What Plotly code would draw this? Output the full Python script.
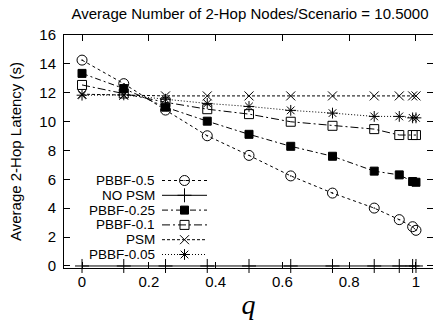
import plotly.graph_objects as go

q = [0, 0.125, 0.25, 0.375, 0.5, 0.625, 0.75, 0.875, 0.95, 0.99, 1.0]
pbbf_05 = [14.26, 12.63, 10.80, 9.02, 7.66, 6.24, 5.05, 4.01, 3.21, 2.72, 2.47]
no_psm = [0, 0, 0, 0, 0, 0, 0, 0, 0, 0, 0]
pbbf_025 = [13.34, 12.29, 11.00, 10.03, 9.12, 8.29, 7.60, 6.57, 6.31, 5.85, 5.80]
pbbf_01 = [12.54, 11.95, 11.34, 10.86, 10.52, 9.99, 9.71, 9.48, 9.07, 9.07, 9.07]
psm = [11.90, 11.82, 11.78, 11.78, 11.78, 11.78, 11.78, 11.78, 11.78, 11.78, 11.78]
pbbf_005 = [11.83, 11.85, 11.55, 11.26, 11.05, 10.78, 10.59, 10.36, 10.36, 10.26, 10.26]

series_names = ["PBBF-0.5", "NO PSM", "PBBF-0.25", "PBBF-0.1", "PSM", "PBBF-0.05"]
series_vals = [pbbf_05, no_psm, pbbf_025, pbbf_01, psm, pbbf_005]
symbols = ["circle-open-dot", "cross-thin", "square", "square-open", "x-thin", "asterisk-open"]
sizes = [10, 10, 8, 9, 9, 9]
dashes = ["3px,3px", "solid", "6px,3px,2px,3px", "8px,3px,2px,3px", "3px,2px", "1px,2px"]

FONT = "Liberation Sans, Arial, sans-serif"
fig = go.Figure()


def mk(sym, sz):
    return dict(symbol=sym, size=sz, color="black", line=dict(color="black", width=1))


for name, vals, sym, sz, dsh in zip(series_names, series_vals, symbols, sizes, dashes):
    fig.add_trace(go.Scatter(
        x=q, y=vals, mode="lines+markers", name=name, showlegend=False,
        line=dict(color="black", width=1, dash=dsh),
        marker=mk(sym, sz), cliponaxis=False,
    ))

# gnuplot-style key (text right-aligned, sample to the right)
row_y = [180.5, 195.3, 210.1, 224.9, 239.7, 254.5]
for name, sym, sz, dsh, yy in zip(series_names, symbols, sizes, dashes, row_y):
    fig.add_trace(go.Scatter(
        x=[162, 207], y=[yy, yy], mode="lines", xaxis="x2", yaxis="y2",
        line=dict(color="black", width=1, dash=dsh), showlegend=False, hoverinfo="skip"))
    fig.add_trace(go.Scatter(
        x=[184.5], y=[yy], mode="markers", xaxis="x2", yaxis="y2",
        marker=mk(sym, sz), showlegend=False, hoverinfo="skip"))
    fig.add_annotation(x=156, y=yy, xref="x2", yref="y2", text=name, showarrow=False,
                       xanchor="right", yanchor="middle", height=13, borderpad=0,
                       font=dict(family=FONT, size=13.5, color="black"))

fig.update_layout(
    width=433, height=320,
    margin=dict(l=64, r=0, t=35, b=52),
    plot_bgcolor="white", paper_bgcolor="white",
    showlegend=False,
    title=dict(text="Average Number of 2-Hop Nodes/Scenario = 10.5000",
               x=250 / 433, xanchor="center", y=1 - 14 / 320, yanchor="middle",
               font=dict(family=FONT, size=15, color="black")),
    xaxis=dict(range=[-0.054, 1.051], tickvals=[0, 0.2, 0.4, 0.6, 0.8, 1],
               ticktext=["0", "0.2", "0.4", "0.6", "0.8", "1"],
               ticks="inside", ticklen=6, tickcolor="black", tickwidth=1,
               showline=True, linecolor="black", linewidth=1, mirror="allticks",
               showgrid=False, zeroline=False,
               tickfont=dict(family=FONT, size=15, color="black"),
               title=dict(text="<i>q</i>", standoff=10,
                          font=dict(family="Liberation Serif, Times New Roman, serif", size=28,
                                    color="black")),
               ),
    yaxis=dict(range=[-0.14, 16], tickvals=[0, 2, 4, 6, 8, 10, 12, 14, 16],
               ticks="inside", ticklen=6, tickcolor="black", tickwidth=1,
               showline=True, linecolor="black", linewidth=1, mirror="allticks",
               showgrid=False, zeroline=False,
               tickfont=dict(family=FONT, size=15, color="black"),
               ticklabelstandoff=4,
               title=dict(text="Average 2-Hop Latency (s)", standoff=14,
                          font=dict(family=FONT, size=15, color="black"))),
    xaxis2=dict(range=[64, 433], overlaying="x", visible=False, fixedrange=True),
    yaxis2=dict(range=[268, 35], overlaying="y", visible=False, fixedrange=True),
)

fig.write_html("out.html")
